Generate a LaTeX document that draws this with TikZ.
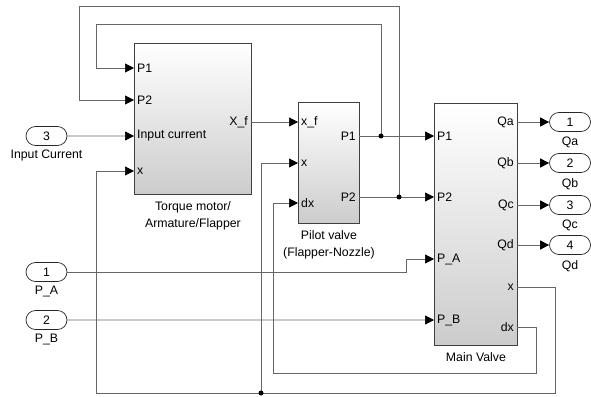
\documentclass[tikz,border=0pt]{standalone}
\usepackage{fontspec}
\setmainfont{Liberation Sans}
\usetikzlibrary{arrows.meta,shapes.misc}
\tikzset{
  blk/.style={draw=black!75,line width=0.9pt,top color=white,bottom color=black!20,anchor=north west,inner sep=0pt},
  port/.style={draw=black!85,line width=0.7pt,rounded rectangle,minimum width=41pt,minimum height=19pt,inner sep=0pt},
  wire/.style={draw=black!60,line width=0.7pt},
  sig/.style={wire,-{Triangle[length=9pt,width=9pt,color=black]}},
  lbl/.style={inner sep=3pt},
  dot/.style={fill=black}
}
\begin{document}
\begin{tikzpicture}[x=1pt,y=-1pt,font=\fontsize{12.3}{17}\selectfont]
\useasboundingbox (0,0) rectangle (591,396);
% blocks
\node[blk,minimum width=117pt,minimum height=151pt] (tm) at (134,43) {};
\node[blk,minimum width=61pt,minimum height=121pt] (pv) at (298,102) {};
\node[blk,minimum width=83pt,minimum height=242pt] (mv) at (434,103) {};
\node[below=3pt,align=center] at (tm.south) {Torque motor/\\Armature/Flapper};
\node[below=3pt,align=center] at (pv.south) {Pilot valve\\(Flapper-Nozzle)};
\node[below=3pt] at (mv.south) {Main Valve};
% ports of the blocks
\foreach \y/\t/\n in {68/P1/p1,100/P2/p2,136/Input current/in,171/x/x}
  {\coordinate (tm-\n) at (134,\y); \node[lbl,right] at (tm-\n) {\t};}
\coordinate (tm-xf) at (251,122); \node[lbl,left] at (tm-xf) {X\_f};
\foreach \y/\t/\n in {122/x\_f/xf,163/x/x,203/dx/dx}
  {\coordinate (pv-\n) at (298,\y); \node[lbl,right] at (pv-\n) {\t};}
\foreach \y/\t/\n in {136/P1/p1,197/P2/p2}
  {\coordinate (pv-\n) at (359,\y); \node[lbl,left] at (pv-\n) {\t};}
\foreach \y/\t/\n in {136/P1/p1,197/P2/p2,259/P\_A/pa,320/P\_B/pb}
  {\coordinate (mv-\n) at (434,\y); \node[lbl,right] at (mv-\n) {\t};}
\foreach \y/\t/\n in {122/Qa/qa,163/Qb/qb,205/Qc/qc,245/Qd/qd,287/x/x,327/dx/dx}
  {\coordinate (mv-\n) at (517,\y); \node[lbl,left] at (mv-\n) {\t};}
% in and out ports
\node[port] (in3) at (46.5,136) {3};
\node[port] (in1) at (46.5,272) {1};
\node[port] (in2) at (46.5,320) {2};
\node[below=1pt] at (in3.south) {Input Current};
\node[below=1pt] at (in1.south) {P\_A};
\node[below=1pt] at (in2.south) {P\_B};
\foreach \n/\t in {1/qa,2/qb,3/qc,4/qd}
  {\node[port] (out\n) at (570,0 |- mv-\t) {\n};
   \draw[sig] (mv-\t) -- (out\n);}
\node[below=2pt] at (out1.south) {Qa};
\node[below=2pt] at (out2.south) {Qb};
\node[below=2pt] at (out3.south) {Qc};
\node[below=2pt] at (out4.south) {Qd};
% junctions
\coordinate (j1) at (381,136);
\coordinate (j2) at (399,197);
\coordinate (j3) at (261,393);
% wires
\draw[sig] (in3) -- (tm-in);
\draw[sig] (tm-xf) -- (pv-xf);
\draw[sig] (pv-p1) -- (mv-p1);
\draw[sig] (pv-p2) -- (mv-p2);
\draw[sig] (j1) |- (96,24) |- (tm-p1);
\draw[sig] (j2) |- (79,6) |- (tm-p2);
\draw[sig] (in1) -| (406,259) -- (mv-pa);
\draw[sig] (in2) -- (mv-pb);
\draw[wire] (mv-x) -| (555,393) -- (j3);
\draw[sig] (j3) -| (96,171) -- (tm-x);
\draw[sig] (j3) |- (pv-x);
\draw[sig] (mv-dx) -| (536,373) -| (273,203) -- (pv-dx);
\foreach \j in {j1,j2,j3} \fill[dot] (\j) circle (2.5pt);
\end{tikzpicture}
\end{document}
